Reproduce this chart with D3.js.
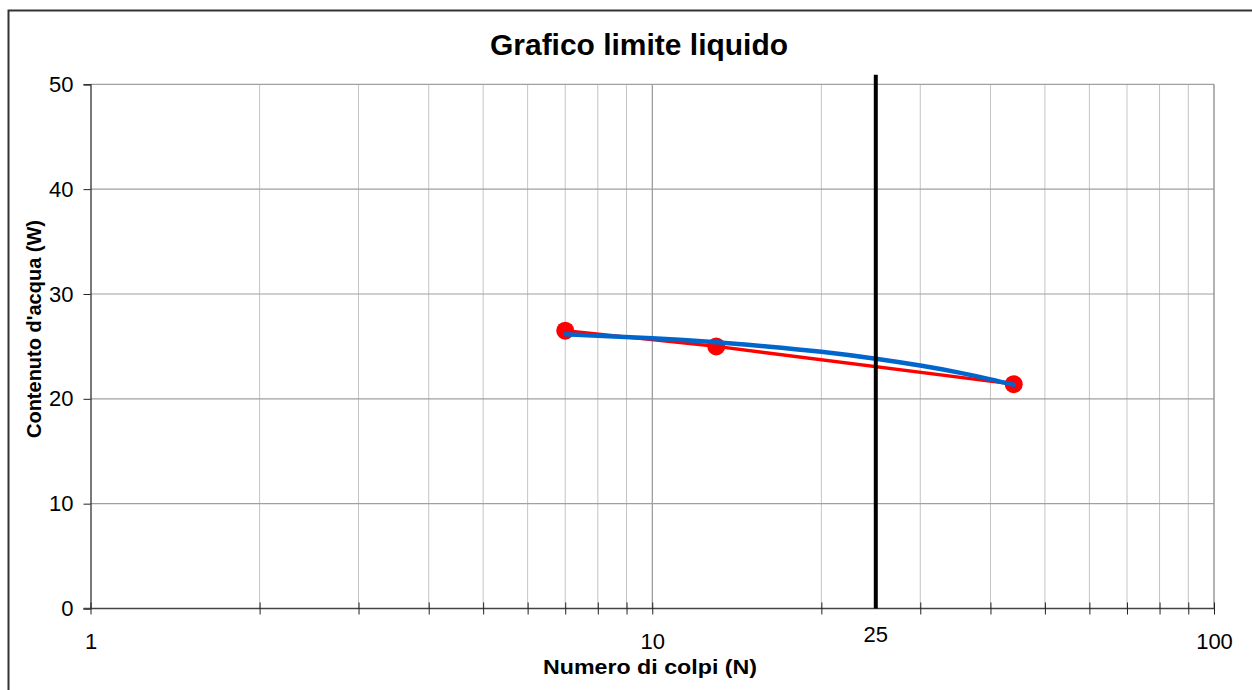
<!DOCTYPE html>
<html><head><meta charset="utf-8">
<script src="https://cdn.jsdelivr.net/npm/d3@7"></script>
<style>html,body{margin:0;padding:0;background:#fff;}svg{display:block;font-family:Arial,"Liberation Sans",sans-serif;}</style>
</head><body>
<svg id="c" width="1252" height="690"></svg>
<script>
// Data
const colpi = [7, 13, 44];
const contenuto = [26.5, 25.0, 21.4];
const trendN = [7, 10, 13, 16, 20, 25, 30, 35, 40, 44];
const trendW = [26.17, 25.78, 25.39, 25.0, 24.48, 23.82, 23.17, 22.52, 21.86, 21.34];
const refN = [25, 25];
const refW = [0, 50.9];
const xTickLabels = [1, 10, 100];
const refLabel = "25";
const yTicks = [0, 10, 20, 30, 40, 50];
const title = "Grafico limite liquido";
const xTitle = "Numero di colpi (N)";
const yTitle = "Contenuto d'acqua (W)";

const svg = d3.select("#c");
const L = 90.5, R = 1214, T = 84.3, B = 608.5;
const x = d3.scaleLog().domain([1, 100]).range([L, R]);
const y = d3.scaleLinear().domain([0, 50]).range([B, T]);
const FONT = "Arial, 'Liberation Sans', sans-serif";

// outer border
svg.append("rect").attr("x", 8.5).attr("y", 10.5).attr("width", 1300).attr("height", 720)
  .attr("fill", "none").attr("stroke", "#333").attr("stroke-width", 2);

// grid
const logTicks = [];
for (let d = 1; d < 100; d *= 10) for (let k = 2; k <= 10; k++) logTicks.push(d * k);
const g = svg.append("g");
g.selectAll("line.vmin").data(logTicks.filter(v => v < 100)).join("line")
  .attr("x1", d => x(d)).attr("x2", d => x(d)).attr("y1", T).attr("y2", B)
  .attr("stroke", d => d === 10 ? "#808080" : "#c4c4c4").attr("stroke-width", 1);
g.selectAll("line.h").data(yTicks.filter(v => v > 0)).join("line")
  .attr("x1", L).attr("x2", R).attr("y1", d => y(d)).attr("y2", d => y(d))
  .attr("stroke", "#a0a0a0").attr("stroke-width", 1.2);
g.append("line").attr("x1", R).attr("x2", R).attr("y1", T).attr("y2", B)
  .attr("stroke", "#999").attr("stroke-width", 1.5);

// y axis
const yAxis = d3.axisLeft(y).tickValues(yTicks).tickSize(7).tickPadding(10);
const ya = svg.append("g").attr("transform", `translate(${L},0)`).call(yAxis);
ya.select(".domain").attr("stroke", "#222").attr("stroke-width", 1.2);
ya.selectAll(".tick line").attr("stroke", "#222");
ya.selectAll("text").attr("font-size", 22).attr("fill", "#000").attr("font-family", FONT);

// x axis
const xAxis = d3.axisBottom(x).tickValues([1].concat(logTicks)).tickSize(6).tickPadding(19)
  .tickFormat(d => xTickLabels.includes(d) ? String(d) : "");
const xa = svg.append("g").attr("transform", `translate(0,${B})`).call(xAxis);
xa.select(".domain").attr("stroke", "#444").attr("stroke-width", 1.6).attr("d", `M${L - 7},0H${R}`);
xa.selectAll(".tick line").attr("stroke", "#222").attr("y1", -6);
xa.selectAll("text").attr("font-size", 22).attr("fill", "#000").attr("font-family", FONT);

// ref label 25
svg.append("text").attr("x", x(refN[0])).attr("y", 642).attr("text-anchor", "middle")
  .attr("font-size", 22).attr("font-family", FONT).text(refLabel);

// red series
const redData = colpi.map((n, i) => [n, contenuto[i]]);
svg.append("path").datum(redData)
  .attr("d", d3.line().x(d => x(d[0])).y(d => y(d[1])))
  .attr("fill", "none").attr("stroke", "#ff0000").attr("stroke-width", 3.4);
svg.selectAll("circle.pt").data(redData).join("circle")
  .attr("cx", d => x(d[0])).attr("cy", d => y(d[1])).attr("r", 9).attr("fill", "#ff0000");

// trend (blue)
const blueData = trendN.map((n, i) => [n, trendW[i]]);
svg.append("path").datum(blueData)
  .attr("d", d3.line().curve(d3.curveNatural).x(d => x(d[0])).y(d => y(d[1])))
  .attr("fill", "none").attr("stroke", "#0066cc").attr("stroke-width", 4.5).attr("stroke-linecap", "round");

// reference vertical line
const refData = refN.map((n, i) => [n, refW[i]]);
svg.append("path").datum(refData)
  .attr("d", d3.line().x(d => x(d[0])).y(d => y(d[1])))
  .attr("stroke", "#000").attr("stroke-width", 4).attr("fill", "none");

// titles
svg.append("text").attr("x", 639).attr("y", 55).attr("text-anchor", "middle").attr("font-family", FONT)
  .attr("font-size", 29).attr("font-weight", "bold").attr("textLength", 298).attr("lengthAdjust", "spacingAndGlyphs").text(title);
svg.append("text").attr("x", 650).attr("y", 674).attr("text-anchor", "middle").attr("font-family", FONT)
  .attr("font-size", 20).attr("font-weight", "bold").attr("textLength", 214).attr("lengthAdjust", "spacingAndGlyphs").text(xTitle);
svg.append("text").attr("transform", "translate(41,329) rotate(-90)").attr("text-anchor", "middle").attr("font-family", FONT)
  .attr("font-size", 20).attr("font-weight", "bold").text(yTitle);
</script>
</body></html>
